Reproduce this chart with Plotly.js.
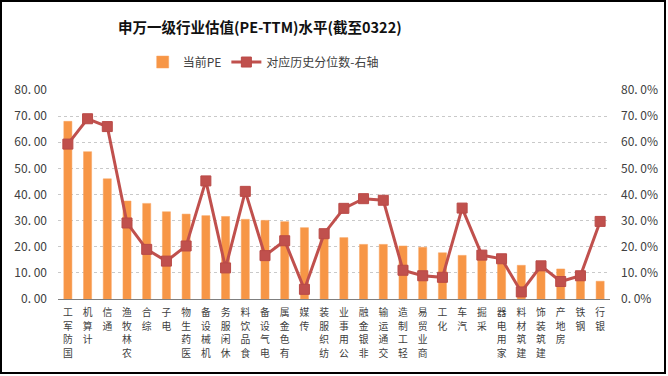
<!DOCTYPE html>
<html>
<head>
<meta charset="utf-8">
<script src="https://cdn.plot.ly/plotly-3.0.1.min.js"></script>
<style>
  html, body { margin: 0; padding: 0; background: #fff; }
  #wrap { position: relative; width: 668px; height: 376px; }
  #chart { width: 668px; height: 376px; }
  #frame { position: absolute; left: 0; top: 0; width: 666px; height: 374px; box-sizing: border-box; border: 2px solid #000; pointer-events: none; }
</style>
</head>
<body>
<div id="wrap"><div id="chart"></div><div id="frame"></div></div>
<script>
const categories = ["国防军工","计算机","通信","农林牧渔","综合","电子","医药生物","机械设备","休闲服务","食品饮料","电气设备","有色金属","传媒","纺织服装","公用事业","非银金融","交通运输","轻工制造","商业贸易","化工","汽车","采掘","家用电器","建筑材料","建筑装饰","房地产","钢铁","银行"];
const currentPE = [68.0,56.4,46.0,37.5,36.6,33.4,32.5,31.9,31.6,30.5,30.1,29.6,27.3,25.3,23.5,20.9,20.9,20.3,19.8,17.7,16.7,17.4,15.6,12.9,12.4,11.5,9.6,6.8];
const percentile = [59.3,69.0,66.0,29.1,19.0,14.5,20.3,45.2,11.9,41.2,16.6,22.3,3.7,25.0,34.7,38.4,37.8,11.0,8.9,8.3,34.8,16.8,15.4,2.7,12.7,6.7,8.9,29.7];
const leftTickVals = [0,10,20,30,40,50,60,70,80];
const leftTickText = ["0. 00","10. 00","20. 00","30. 00","40. 00","50. 00","60. 00","70. 00","80. 00"];
const rightTickText = ["0. 0%","10. 0%","20. 0%","30. 0%","40. 0%","50. 0%","60. 0%","70. 0%","80. 0%"];
const seriesNames = ["当前PE","对应历史分位数-右轴"];
const titleText = "申万一级行业估值(PE-TTM)水平(截至0322)";

// category labels: characters stacked, read from bottom to top (last character nearest the axis)
const verticalLabels = categories.map(c =>
  c.split("").reverse().map(ch => '<span style="font-size:9.8px">' + ch + '</span>').join("<br>")
);
const FONT = "Noto Sans CJK SC, sans-serif";

const traces = [
  {
    type: "bar", name: seriesNames[0], x: categories, y: currentPE,
    marker: { color: "#F79646", line: { color: "#F9A35E", width: 0.5 } },
    yaxis: "y"
  },
  {
    type: "scatter", mode: "lines+markers", name: seriesNames[1], x: categories, y: percentile,
    line: { color: "#C0504D", width: 3 },
    marker: { symbol: "square", size: 10, color: "#C0504D", line: { color: "#B94A47", width: 1 } },
    yaxis: "y2"
  }
];

const layout = {
  width: 668, height: 376,
  margin: { l: 58, r: 58, t: 90, b: 77 },
  paper_bgcolor: "#ffffff", plot_bgcolor: "#ffffff",
  font: { family: FONT, size: 12, color: "#404040" },
  title: {
    text: titleText, font: { family: FONT, size: 14.5, color: "#111", weight: "bold" },
    xref: "container", x: 0.389, xanchor: "center",
    yref: "container", y: 0.925, yanchor: "middle", automargin: false
  },
  showlegend: true,
  legend: {
    orientation: "h", xref: "container", x: 0.394, xanchor: "center",
    yref: "container", y: 0.835, yanchor: "middle",
    font: { family: FONT, size: 12, color: "#404040" },
    traceorder: "normal", itemwidth: 30
  },
  bargap: 0.59,
  xaxis: {
    type: "category", tickmode: "array", tickvals: categories, ticktext: verticalLabels,
    range: [-0.5, categories.length - 0.5], autorange: false,
    tickangle: 0, showgrid: false, showline: true, linecolor: "#7f7f7f", linewidth: 1,
    ticks: "", tickfont: { family: FONT, size: 10.6, color: "#404040" }, ticklabelstandoff: 3,
    automargin: false
  },
  yaxis: {
    range: [0, 80], tickmode: "array", tickvals: leftTickVals, ticktext: leftTickText,
    showgrid: true, gridcolor: "#c9c9c9", griddash: "3px,3px", gridwidth: 1,
    zeroline: false, showline: false, ticks: "", ticklabelstandoff: 10,
    tickfont: { family: FONT, size: 12, color: "#404040" }, automargin: false
  },
  yaxis2: {
    range: [0, 80], overlaying: "y", side: "right", tickmode: "array",
    tickvals: leftTickVals, ticktext: rightTickText, showgrid: false, zeroline: false,
    ticks: "", ticklabelstandoff: 10, tickfont: { family: FONT, size: 12, color: "#404040" },
    automargin: false
  }
};

Plotly.newPlot("chart", traces, layout, { displayModeBar: false, staticPlot: true });
</script>
</body>
</html>
